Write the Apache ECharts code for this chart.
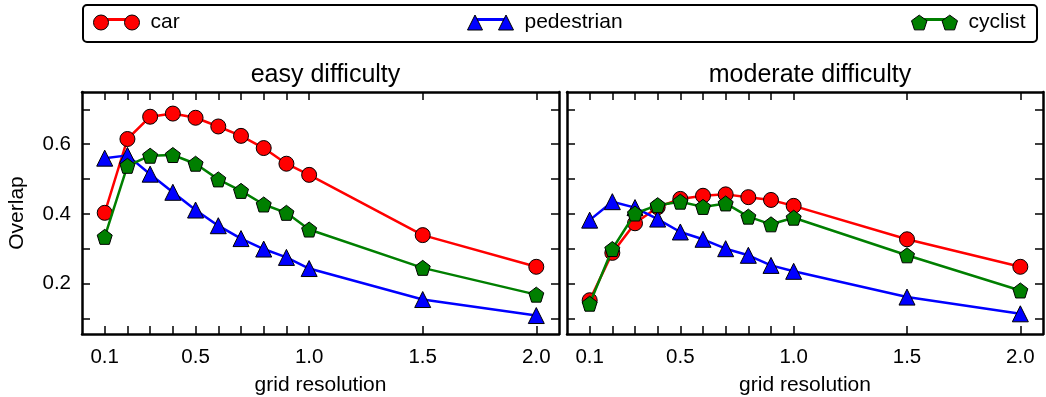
<!DOCTYPE html>
<html>
<head>
<meta charset="utf-8">
<script src="https://cdn.jsdelivr.net/npm/echarts@6/dist/echarts.min.js"></script>
<style>
  html, body { margin: 0; padding: 0; background: #fff; }
  #chart { width: 1046px; height: 397px; }
</style>
</head>
<body>
<div id="chart"></div>
<script>
(function () {
  var FONT = "'Liberation Sans', Arial, Helvetica, sans-serif";

  // grid resolutions (x values) and tick labels
  var resolutions = [0.1, 0.2, 0.3, 0.4, 0.5, 0.6, 0.7, 0.8, 0.9, 1.0, 1.5, 2.0];
  var xLabelValues = [0.1, 0.5, 1.0, 1.5, 2.0];
  var yTickValues = [0.1, 0.2, 0.3, 0.4, 0.5, 0.6, 0.7];
  var yLabelValues = [0.2, 0.4, 0.6];

  // easy difficulty
  var easyCar = [0.403, 0.615, 0.679, 0.688, 0.676, 0.651, 0.624, 0.589, 0.544, 0.512, 0.339, 0.248];
  var easyPedestrian = [0.560, 0.568, 0.514, 0.462, 0.411, 0.366, 0.329, 0.299, 0.275, 0.243, 0.154, 0.108];
  var easyCyclist = [0.334, 0.538, 0.567, 0.569, 0.544, 0.499, 0.466, 0.427, 0.403, 0.355, 0.245, 0.168];

  // moderate difficulty
  var modCar = [0.152, 0.288, 0.373, 0.419, 0.443, 0.452, 0.456, 0.448, 0.440, 0.423, 0.327, 0.248];
  var modPedestrian = [0.382, 0.435, 0.418, 0.385, 0.348, 0.327, 0.300, 0.281, 0.252, 0.235, 0.161, 0.113];
  var modCyclist = [0.142, 0.299, 0.401, 0.425, 0.435, 0.420, 0.430, 0.392, 0.370, 0.389, 0.281, 0.180];

  var PENTAGON = "path://M0,-1 L0.951,-0.309 L0.588,0.809 L-0.588,0.809 L-0.951,-0.309 Z";

  var kinds = [
    { name: "car", color: "#ff0000", symbol: "circle", size: 15,
      icon: "path://M0,7.5 A7.5,7.5 0 1 1 15,7.5 A7.5,7.5 0 1 1 0,7.5 Z M31,7.5 A7.5,7.5 0 1 1 46,7.5 A7.5,7.5 0 1 1 31,7.5 Z",
      left: 88 },
    { name: "pedestrian", color: "#0000ff", symbol: "triangle", size: 16,
      icon: "path://M0,15 L7.5,0 L15,15 Z M31,15 L38.5,0 L46,15 Z",
      left: 462 },
    { name: "cyclist", color: "#007f00", symbol: PENTAGON, size: 15,
      icon: "path://M8,0 L15.61,5.53 L12.7,14.47 L3.3,14.47 L0.39,5.53 Z M38,0 L45.61,5.53 L42.7,14.47 L33.3,14.47 L30.39,5.53 Z",
      left: 906 }
  ];

  function pairs(values) {
    return values.map(function (v, i) { return [resolutions[i], v]; });
  }

  var panels = [
    { title: "easy difficulty", data: [easyCar, easyPedestrian, easyCyclist], left: 82, width: 477 },
    { title: "moderate difficulty", data: [modCar, modPedestrian, modCyclist], left: 567, width: 476 }
  ];

  var axisLine = { show: true, onZero: false, lineStyle: { color: "#000", width: 2.5 } };
  var tickStyle = { color: "#000", width: 1.5 };

  var grids = [], xAxes = [], yAxes = [], series = [], titles = [];

  panels.forEach(function (p, g) {
    grids.push({ left: p.left, top: 92, width: p.width, height: 242, outerBoundsMode: "none", containLabel: false });
    titles.push({
      text: p.title, left: p.left + p.width / 2, top: 58, textAlign: "center",
      textStyle: { fontFamily: FONT, fontSize: 25, fontWeight: "normal", color: "#000" }
    });

    xAxes.push({
      type: "value", gridIndex: g, position: "bottom", min: 0, max: 2.1,
      axisLine: axisLine,
      axisTick: { show: true, inside: true, length: 8, customValues: resolutions, lineStyle: tickStyle },
      axisLabel: {
        show: true, customValues: xLabelValues, margin: 13,
        fontFamily: FONT, fontSize: 20.5, color: "#000",
        formatter: function (v) { return v.toFixed(1); }
      },
      splitLine: { show: false },
      name: "grid resolution", nameLocation: "middle", nameGap: 41,
      nameTextStyle: { fontFamily: FONT, fontSize: 21, color: "#000" }
    });
    xAxes.push({
      type: "value", gridIndex: g, position: "top", min: 0, max: 2.1,
      axisLine: axisLine,
      axisTick: { show: true, inside: true, length: 8, customValues: resolutions, lineStyle: tickStyle },
      axisLabel: { show: false },
      splitLine: { show: false }
    });

    var leftY = {
      type: "value", gridIndex: g, position: "left", min: 0.055, max: 0.75,
      axisLine: axisLine,
      axisTick: { show: true, inside: true, length: 8, customValues: yTickValues, lineStyle: tickStyle },
      axisLabel: {
        show: g === 0, customValues: yLabelValues, margin: 11,
        fontFamily: FONT, fontSize: 20.5, color: "#000",
        formatter: function (v) { return v.toFixed(1); }
      },
      splitLine: { show: false }
    };
    if (g === 0) {
      leftY.name = "Overlap";
      leftY.nameLocation = "middle";
      leftY.nameGap = 54;
      leftY.nameTextStyle = { fontFamily: FONT, fontSize: 21, color: "#000" };
    }
    yAxes.push(leftY);
    yAxes.push({
      type: "value", gridIndex: g, position: "right", min: 0.055, max: 0.75,
      axisLine: axisLine,
      axisTick: { show: true, inside: true, length: 8, customValues: yTickValues, lineStyle: tickStyle },
      axisLabel: { show: false },
      splitLine: { show: false }
    });

    kinds.forEach(function (k, i) {
      series.push({
        name: k.name, type: "line",
        xAxisIndex: g * 2, yAxisIndex: g * 2,
        data: pairs(p.data[i]),
        symbol: k.symbol, symbolSize: k.size,
        lineStyle: { color: k.color, width: 2.5 },
        itemStyle: { color: k.color, borderColor: "#000", borderWidth: 1 },
        emphasis: { disabled: true },
        animation: false, z: 2 + i
      });
    });
  });

  // legend: a coloured line layer under the marker/text layer
  var legends = [];
  kinds.forEach(function (k) {
    legends.push({
      data: [{ name: k.name, icon: "rect", itemStyle: { color: k.color, borderWidth: 0 } }],
      left: k.left + 8, top: 13, itemWidth: 30, itemHeight: 3, itemGap: 0,
      textStyle: { color: "rgba(0,0,0,0)", fontFamily: FONT, fontSize: 21 },
      formatter: function () { return ""; },
      selectedMode: false, z: 3
    });
  });
  kinds.forEach(function (k) {
    legends.push({
      data: [{ name: k.name, icon: k.icon, itemStyle: { color: k.color, borderColor: "#000", borderWidth: 1 } }],
      left: k.left, top: 7, itemWidth: 46, itemHeight: 15, itemGap: 0,
      textStyle: { color: "#000", fontFamily: FONT, fontSize: 21, padding: [0, 0, 0, 6] },
      selectedMode: false, z: 5
    });
  });

  var chart = echarts.init(document.getElementById("chart"), null, { renderer: "canvas" });
  chart.setOption({
    backgroundColor: "#fff",
    animation: false,
    title: titles,
    legend: legends,
    grid: grids,
    xAxis: xAxes,
    yAxis: yAxes,
    series: series,
    graphic: [{
      type: "rect", left: 82, top: 4, z: 1,
      shape: { width: 954, height: 37, r: 4 },
      style: { fill: "#fff", stroke: "#000", lineWidth: 2 }
    }]
  });
})();
</script>
</body>
</html>
